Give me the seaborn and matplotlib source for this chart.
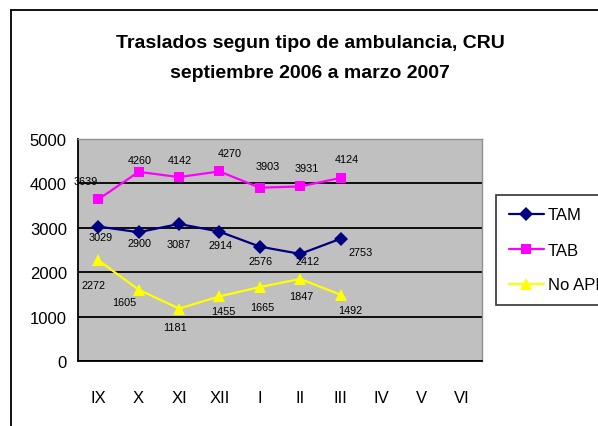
import pandas as pd
import seaborn as sns
import matplotlib.pyplot as plt
from matplotlib.lines import Line2D

months = ["IX", "X", "XI", "XII", "I", "II", "III", "IV", "V", "VI"]
tam = [3029, 2900, 3087, 2914, 2576, 2412, 2753]
tab = [3639, 4260, 4142, 4270, 3903, 3931, 4124]
no_aph = [2272, 1605, 1181, 1455, 1665, 1847, 1492]
series = ["TAM", "TAB", "No APH"]

# label placement (pixels from point)
offs = {
    "TAM": [(2, -10), (1, -11), (0, -20), (1, -13), (1, -14), (7, -7), (20, -13)],
    "TAB": [(-12, 18), (1, 12), (1, 17), (10, 18), (8, 22), (7, 18), (6, 19)],
    "No APH": [(-5, -25), (-14, -12), (-4, -18), (4, -15), (2, -20), (1, -17), (10, -15)],
}

rows = []
for name, vals in zip(series, [tam, tab, no_aph]):
    for i, v in enumerate(vals):
        rows.append({"mes": i, "valor": v, "serie": name})
df = pd.DataFrame(rows)

sns.set_theme(style="white")
plt.rcParams["font.family"] = ["Liberation Sans", "DejaVu Sans"]
plt.rcParams["text.color"] = "black"
plt.rcParams["xtick.color"] = "black"
plt.rcParams["ytick.color"] = "black"

colors = {"TAM": "#000080", "TAB": "#FF00FF", "No APH": "#FFFF00"}
marks = {"TAM": "D", "TAB": "s", "No APH": "^"}
msize = {"TAM": 7.5, "TAB": 7, "No APH": 8.5}

fig = plt.figure(figsize=(5.98, 4.27), dpi=100)
ax = fig.add_axes([78 / 598, 65 / 427, 404 / 598, 222 / 427])
ax.set_facecolor("#C0C0C0")

for name in series:
    sns.lineplot(data=df[df["serie"] == name], x="mes", y="valor",
                 color=colors[name], marker=marks[name], markersize=msize[name],
                 linewidth=1.6, markeredgewidth=0, ax=ax)

for name, vals in zip(series, [tam, tab, no_aph]):
    for i, v in enumerate(vals):
        dx, dy = offs[name][i]
        ax.annotate(str(v), (i, v), xytext=(dx, dy), textcoords="offset pixels",
                    ha="center", va="center", fontsize=7.8, color="black")

ax.set_xlim(-0.5, len(months) - 0.5)
ax.set_ylim(0, 5000)
ax.set_yticks(range(0, 5001, 1000))
ax.set_xticks(range(len(months)))
ax.set_xticklabels(months)
ax.set_xticks([i - 0.5 for i in range(len(months) + 1)], minor=True)
ax.tick_params(axis="x", which="major", length=0, pad=21, labelsize=12)
ax.tick_params(axis="x", which="minor", length=7, width=1.2, color="black", direction="out")
ax.tick_params(axis="y", length=6, width=1.2, color="black", direction="out", labelsize=12, pad=2)
ax.set_xlabel("")
ax.set_ylabel("")
ax.grid(axis="y", color="black", linewidth=1.3)
ax.set_axisbelow(True)
for s in ["top", "right"]:
    ax.spines[s].set_color("#909090")
    ax.spines[s].set_linewidth(1)
for s in ["left", "bottom"]:
    ax.spines[s].set_color("black")
    ax.spines[s].set_linewidth(1.3)

handles = [Line2D([0], [0], color=colors[n], marker=marks[n], markersize=msize[n],
                  markeredgewidth=0, linewidth=1.6) for n in series]
leg = fig.legend(handles, series, loc="upper left",
                 bbox_to_anchor=(496 / 598, 1 - 196 / 427), frameon=True,
                 fancybox=False, edgecolor="black", fontsize=12,
                 handlelength=2.1, labelspacing=1.2, borderaxespad=0,
                 borderpad=0.75, handletextpad=0.25)
leg.get_frame().set_linewidth(1.2)

fig.text(310 / 598, 1 - 44 / 427, "Traslados segun tipo de ambulancia, CRU",
         ha="center", va="center", fontsize=14, fontweight="bold")
fig.text(310 / 598, 1 - 74 / 427, "septiembre 2006 a marzo 2007",
         ha="center", va="center", fontsize=14, fontweight="bold")

# outer chart frame (cut off on right and bottom)
fig.add_artist(Line2D([10.5 / 598, 10.5 / 598], [0, 1 - 11 / 427], color="black", lw=1.3))
fig.add_artist(Line2D([10.5 / 598, 1], [1 - 11 / 427, 1 - 11 / 427], color="black", lw=1.3))

fig.savefig("out.png", dpi=100)
